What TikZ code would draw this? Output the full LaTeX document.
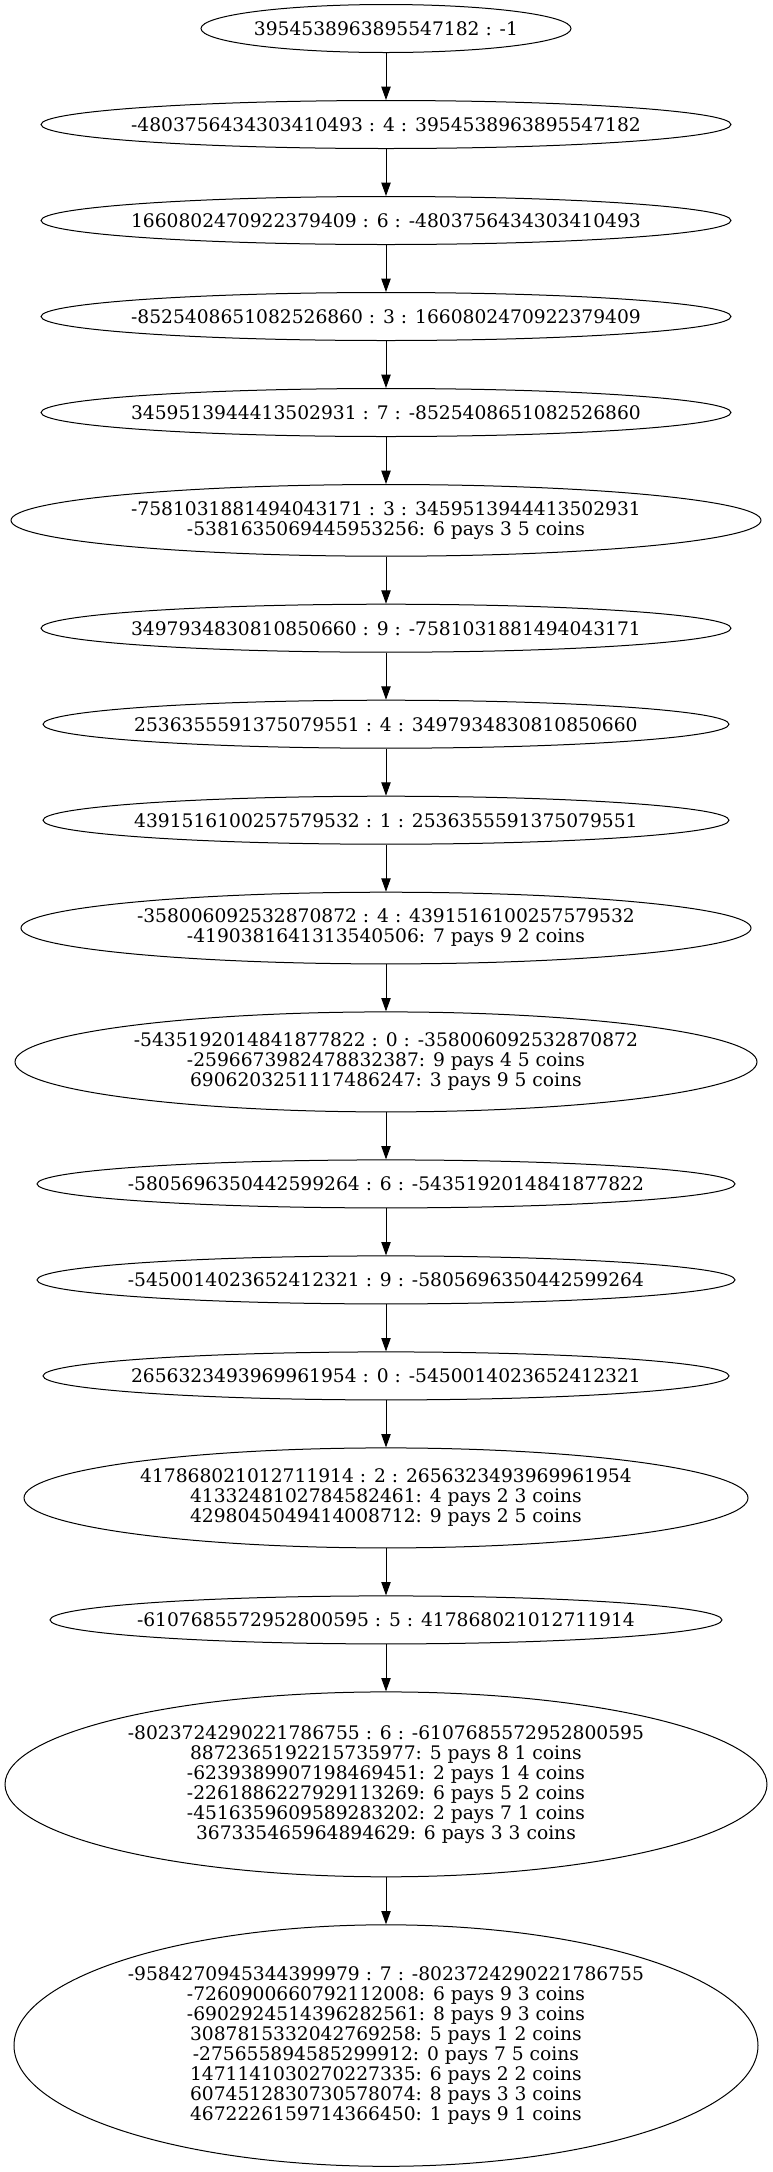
\documentclass[tikz,border=0pt]{standalone}
\usepackage{fontspec}
\setmainfont{DejaVu Serif}
\usetikzlibrary{shapes.geometric,arrows.meta}
\begin{document}
\begin{tikzpicture}[x=1pt,y=-1pt,
  state/.style={draw=black, line width=1pt, ellipse, inner sep=0pt},
  txt/.style={font=\fontsize{18.67}{20}\selectfont, align=center, inner sep=0pt},
  link/.style={draw=black, line width=1pt, -{Triangle[length=13.3pt,width=9.3pt]}}]
\useasboundingbox (0,0) rectangle (772,2172);

% chain of states, top to bottom
\node[state, minimum width=370, minimum height=48,
  label={[txt]center:{3954538963895547182 : -1}}] (n1) at (386,28.5) {};
\node[state, minimum width=690, minimum height=48,
  label={[txt]center:{-4803756434303410493 : 4 : 3954538963895547182}}] (n2) at (386,124.5) {};
\node[state, minimum width=690, minimum height=48,
  label={[txt]center:{1660802470922379409 : 6 : -4803756434303410493}}] (n3) at (386,220.5) {};
\node[state, minimum width=690, minimum height=48,
  label={[txt]center:{-8525408651082526860 : 3 : 1660802470922379409}}] (n4) at (386,316.5) {};
\node[state, minimum width=690, minimum height=48,
  label={[txt]center:{3459513944413502931 : 7 : -8525408651082526860}}] (n5) at (386,412.5) {};
\node[state, minimum width=750, minimum height=71.7,
  label={[txt]center:{-7581031881494043171 : 3 : 3459513944413502931\\-5381635069445953256: 6 pays 3 5 coins}}] (n6) at (386,520.35) {};
\node[state, minimum width=690, minimum height=48,
  label={[txt]center:{3497934830810850660 : 9 : -7581031881494043171}}] (n7) at (386,628.2) {};
\node[state, minimum width=686, minimum height=48,
  label={[txt]center:{2536355591375079551 : 4 : 3497934830810850660}}] (n8) at (386,724.2) {};
\node[state, minimum width=686, minimum height=48,
  label={[txt]center:{4391516100257579532 : 1 : 2536355591375079551}}] (n9) at (386,820.2) {};
\node[state, minimum width=730, minimum height=71.7,
  label={[txt]center:{-358006092532870872 : 4 : 4391516100257579532\\-4190381641313540506: 7 pays 9 2 coins}}] (n10) at (386,928.05) {};
\node[state, minimum width=742, minimum height=100,
  label={[txt]center:{-5435192014841877822 : 0 : -358006092532870872\\-2596673982478832387: 9 pays 4 5 coins\\6906203251117486247: 3 pays 9 5 coins}}] (n11) at (386,1061.9) {};
\node[state, minimum width=698, minimum height=48,
  label={[txt]center:{-5805696350442599264 : 6 : -5435192014841877822}}] (n12) at (386,1183.9) {};
\node[state, minimum width=698, minimum height=48,
  label={[txt]center:{-5450014023652412321 : 9 : -5805696350442599264}}] (n13) at (386,1279.9) {};
\node[state, minimum width=686, minimum height=48,
  label={[txt]center:{2656323493969961954 : 0 : -5450014023652412321}}] (n14) at (386,1375.9) {};
\node[state, minimum width=724, minimum height=100,
  label={[txt]center:{417868021012711914 : 2 : 2656323493969961954\\4133248102784582461: 4 pays 2 3 coins\\4298045049414008712: 9 pays 2 5 coins}}] (n15) at (386,1497.9) {};
\node[state, minimum width=672, minimum height=48,
  label={[txt]center:{-6107685572952800595 : 5 : 417868021012711914}}] (n16) at (386,1619.9) {};
\node[state, minimum width=762, minimum height=184.9,
  label={[txt]center:{-8023724290221786755 : 6 : -6107685572952800595\\8872365192215735977: 5 pays 8 1 coins\\-6239389907198469451: 2 pays 1 4 coins\\-2261886227929113269: 6 pays 5 2 coins\\-4516359609589283202: 2 pays 7 1 coins\\367335465964894629: 6 pays 3 3 coins}}] (n17) at (386,1784.35) {};
\node[state, minimum width=744, minimum height=241.5,
  label={[txt]center:{-9584270945344399979 : 7 : -8023724290221786755\\-7260900660792112008: 6 pays 9 3 coins\\-6902924514396282561: 8 pays 9 3 coins\\3087815332042769258: 5 pays 1 2 coins\\-275655894585299912: 0 pays 7 5 coins\\1471141030270227335: 6 pays 2 2 coins\\6074512830730578074: 8 pays 3 3 coins\\4672226159714366450: 1 pays 9 1 coins}}] (n18) at (386,2045.55) {};

% connectors
\foreach \a/\b in {n1/n2,n2/n3,n3/n4,n4/n5,n5/n6,n6/n7,n7/n8,n8/n9,n9/n10,
  n10/n11,n11/n12,n12/n13,n13/n14,n14/n15,n15/n16,n16/n17,n17/n18}
  \draw[link] (\a) -- (\b);
\end{tikzpicture}
\end{document}
